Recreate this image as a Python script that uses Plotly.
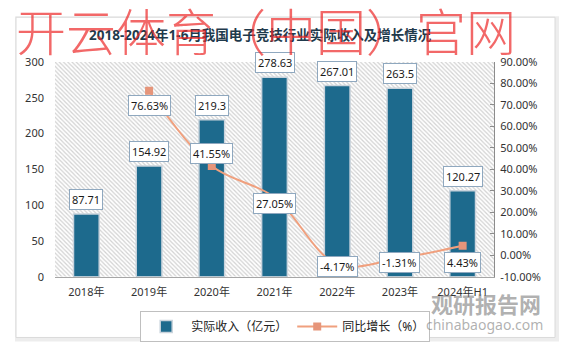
import plotly.graph_objects as go

# ---------------- data ----------------
categories = ["2018年", "2019年", "2020年", "2021年", "2022年", "2023年", "2024年H1"]
revenue = [87.71, 154.92, 219.3, 278.63, 267.01, 263.5, 120.27]          # 实际收入（亿元）
growth = [None, 76.63, 41.55, 27.05, -4.17, -1.31, 4.43]                  # 同比增长（%）
left_ticks = [0, 50, 100, 150, 200, 250, 300]
right_ticks = [-10, 0, 10, 20, 30, 40, 50, 60, 70, 80, 90]

title_text = "2018-2024年1-6月我国电子竞技行业实际收入及增长情况"
bar_name = "实际收入（亿元）"
line_name = "同比增长（%）"

# ---------------- layout helpers ----------------
W, H = 567, 353
L, R, T, B = 55, 73, 62, 75
PW, PH = W - L - R, H - T - B
FONT = "Noto Sans, Noto Sans CJK SC, sans-serif"


def px(x):
    return (x - L) / PW


def py(y):
    return (H - B - y) / PH


# vertical pixel offsets of the growth labels relative to their points (style only)
growth_label_shift = [0, -15, 13, -6, -2, -4, -17]

n = len(categories)
idx = list(range(n))

fig = go.Figure()

# hatched plot-area background
fig.add_trace(go.Scatter(
    x=[-0.5, n - 0.5, n - 0.5, -0.5, -0.5], y=[0, 0, 1, 1, 0],
    xaxis="x", yaxis="y", mode="lines", fill="toself", fillcolor="#F4F4F4",
    line=dict(width=0, color="rgba(0,0,0,0)"),
    fillpattern=dict(shape="\\", fgcolor="#D2D2D2", bgcolor="#FFFFFF", size=3, solidity=0.4,
                     fillmode="replace"),
    hoverinfo="skip", showlegend=False))

fig.add_trace(go.Bar(
    x=idx, y=revenue, yaxis="y2", name=bar_name, width=0.41,
    marker=dict(color="#1D6A8D", line=dict(color="#C9D3DC", width=1.5))))

fig.add_trace(go.Scatter(
    x=idx, y=growth, yaxis="y3", name=line_name, mode="lines+markers",
    line=dict(color="#F0A07E", width=2, shape="spline", smoothing=1),
    marker=dict(symbol="square", size=8, color="#E6957A")))

annotations = []
# title
annotations.append(dict(x=px(260), y=py(35), xref="paper", yref="paper", text=title_text,
                        showarrow=False, xanchor="center", yanchor="middle",
                        font=dict(family=FONT, size=13.5, color="#1F3A4C", weight="bold")))

# bar labels
for i, v in enumerate(revenue):
    annotations.append(dict(x=i, y=v, xref="x", yref="y2", text=f"{v}", showarrow=False,
                            xanchor="center", yanchor="bottom", yshift=4,
                            bgcolor="white", bordercolor="#8FA8BF", borderwidth=1, borderpad=2,
                            font=dict(family=FONT, size=11, color="#1a1a1a")))
# growth labels
for i, g in enumerate(growth):
    if g is None:
        continue
    annotations.append(dict(x=i, y=g, xref="x", yref="y3", text=f"{g:.2f}%", showarrow=False,
                            xanchor="center", yanchor="middle", yshift=growth_label_shift[i],
                            bgcolor="white", bordercolor="#8FA8BF", borderwidth=1, borderpad=2,
                            font=dict(family=FONT, size=11, color="#1a1a1a")))

# watermarks
annotations.append(dict(x=px(266), y=py(29), xref="paper", yref="paper",
                        text="开云体育（中国）官网", showarrow=False,
                        xanchor="center", yanchor="middle",
                        font=dict(family="Noto Sans CJK SC", size=50, color="rgba(236,40,40,0.7)", weight=300)))
annotations.append(dict(x=px(486), y=py(304), xref="paper", yref="paper",
                        text="观研报告网", showarrow=False, xanchor="center", yanchor="middle",
                        font=dict(family="Noto Sans CJK SC", size=22, color="rgba(110,110,110,0.55)", weight="bold")))
annotations.append(dict(x=px(484), y=py(326), xref="paper", yref="paper",
                        text="chinabaogao.com", showarrow=False, xanchor="center", yanchor="middle",
                        font=dict(family=FONT, size=14, color="rgba(110,110,110,0.55)")))

shapes = [
    dict(type="rect", xref="paper", yref="paper", x0=px(17), x1=px(557), y0=py(341), y1=py(18),
         line=dict(color="rgba(0,0,0,0.07)", width=4), layer="below"),
    dict(type="rect", xref="paper", yref="paper", x0=px(16), x1=px(555), y0=py(339), y1=py(17),
         line=dict(color="#DADADA", width=1), fillcolor="white", layer="below"),
]

fig.update_layout(
    width=W, height=H, autosize=False,
    margin=dict(l=L, r=R, t=T, b=B, pad=0),
    paper_bgcolor="white", plot_bgcolor="rgba(0,0,0,0)",
    font=dict(family=FONT, size=11, color="#333333"),
    showlegend=True,
    xaxis=dict(range=[-0.5, n - 0.5], tickvals=idx, ticktext=categories, showgrid=False,
               zeroline=False, showline=True, linecolor="#A6A6A6", linewidth=1, ticks="",
               ticklabelstandoff=5, tickfont=dict(size=11, color="#333333")),
    yaxis=dict(range=[0, 1], visible=False, showgrid=False, zeroline=False),
    yaxis2=dict(overlaying="y", side="left", range=[0, 300], tickvals=left_ticks,
                showgrid=False, zeroline=False, showline=False, ticks="",
                ticklabelstandoff=10, tickfont=dict(size=11, color="#333333")),
    yaxis3=dict(overlaying="y", side="right", range=[-10, 90], tickvals=right_ticks,
                ticktext=[f"{v:.2f}%" for v in right_ticks],
                showgrid=False, zeroline=False, showline=True, linecolor="#8C8C8C", linewidth=1,
                ticks="inside", ticklen=4, tickcolor="#8C8C8C", ticklabelstandoff=3,
                tickfont=dict(size=11, color="#333333")),
    legend=dict(orientation="h", xref="container", yref="container", x=0.503, y=1 - 311 / H,
                xanchor="center", yanchor="top", bgcolor="white", bordercolor="#BFBFBF",
                borderwidth=1, itemwidth=40, font=dict(family=FONT, size=12, color="#222222")),
    annotations=annotations,
    shapes=shapes,
    bargap=0.5,
)

fig.write_html("out.html")
